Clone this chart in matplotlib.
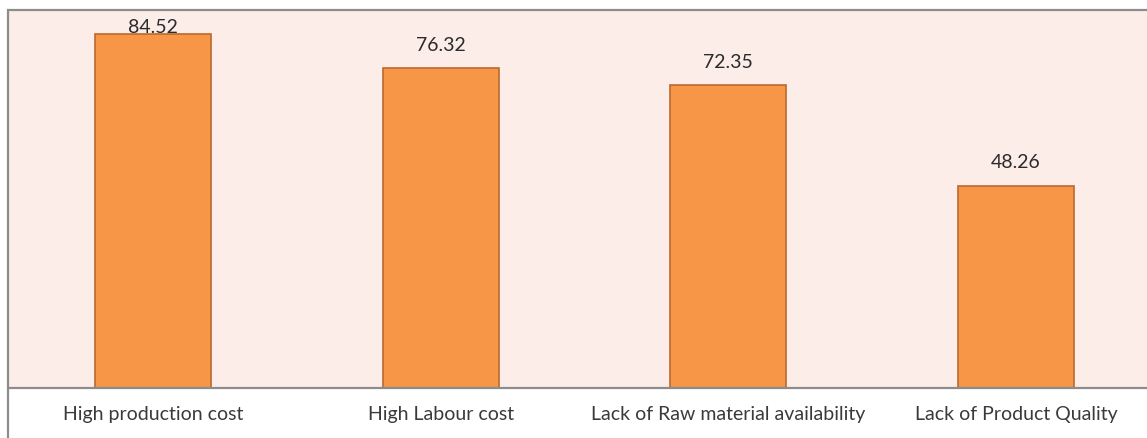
import matplotlib.pyplot as plt
from matplotlib.patches import Rectangle

categories = ["High production cost", "High Labour cost",
              "Lack of Raw material availability", "Lack of Product Quality"]
values = [84.52, 76.32, 72.35, 48.26]

W, H = 1147, 439
fig = plt.figure(figsize=(W / 100, H / 100), dpi=100)
fig.patch.set_facecolor("white")

# plot area runs a little past the right edge of the canvas
ax = fig.add_axes([9 / W, 50 / H, 1151 / W, 377 / H])
ax.set_facecolor("#FCEDE8")

x = range(len(categories))
ax.bar(x, values, width=0.403, color="#F79646", edgecolor="#B96A2E",
       linewidth=1.2, zorder=2)

ax.set_xlim(-0.5, 3.5)
ax.set_ylim(0, 90)

for i, v in enumerate(values):
    ax.text(i, min(v + 5.7, 86.3), f"{v:.2f}", ha="center", va="center",
            fontsize=14, family="Lato", color="#2B2B2B", zorder=3)

ax.set_yticks([])
ax.set_xticks(list(x))
ax.set_xticklabels(categories, fontsize=14, family="Lato", color="#3A3A3A")
ax.tick_params(axis="x", length=0, pad=12)

for side in ("left", "right", "top"):
    ax.spines[side].set_visible(False)
ax.spines["bottom"].set_color("#8C8C8C")
ax.spines["bottom"].set_linewidth(1.6)

# chart border, open at the right and bottom edges
fig.patches.append(Rectangle((8 / W, -0.1), 1.2, (439 - 11) / H + 0.1,
                             transform=fig.transFigure, fill=False,
                             edgecolor="#8C8C8C", linewidth=1.6, zorder=5))

fig.savefig("out.png", dpi=100)
